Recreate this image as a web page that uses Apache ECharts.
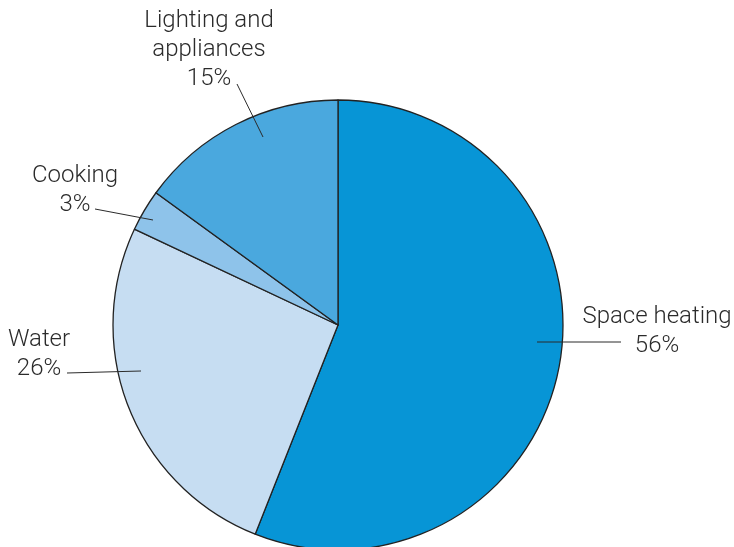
<!DOCTYPE html>
<html>
<head>
<meta charset="utf-8">
<script src="https://cdn.jsdelivr.net/npm/echarts@6/dist/echarts.min.js"></script>
<style>
  html, body { margin: 0; padding: 0; background: #ffffff; }
  #chart { width: 734px; height: 547px; }
</style>
</head>
<body>
<div id="chart"></div>
<script>
// ---- data ----
const categories = ['Space heating', 'Water', 'Cooking', 'Lighting and\nappliances'];
const shares = [56, 26, 3, 15];
const sliceColors = ['#0795d6', '#c6ddf2', '#8ec3ea', '#4aa8de'];

// ---- label layout (annotation placement, not data) ----
// text centre, leader-line start (inside slice), leader-line end
const labelPlacement = [
  { x: 657, y: 331, from: [537, 342], to: [621, 342] },
  { x: 39,  y: 354, from: [141, 371], to: [67, 373] },
  { x: 75,  y: 190, from: [153, 220], to: [95, 209] },
  { x: 209, y: 50,  from: [263, 137], to: [237, 84] }
];

const chart = echarts.init(document.getElementById('chart'), null, { renderer: 'canvas' });

const pieData = categories.map((name, i) => ({
  name: name,
  value: shares[i],
  itemStyle: { color: sliceColors[i] }
}));

const option = {
  animation: false,
  backgroundColor: '#ffffff',
  series: [{
    type: 'pie',
    z: 2,
    center: [338, 325],
    radius: 225,
    startAngle: 90,
    clockwise: true,
    avoidLabelOverlap: false,
    data: pieData,
    itemStyle: { borderColor: '#222222', borderWidth: 1.3 },
    emphasis: { disabled: true },
    label: { show: false },
    labelLine: { show: false }
  }, {
    // transparent overlay carrying the labels so leader lines draw above slices
    type: 'pie',
    z: 5,
    silent: true,
    center: [338, 325],
    radius: 225,
    startAngle: 90,
    clockwise: true,
    avoidLabelOverlap: false,
    data: categories.map((name, i) => ({ name: name, value: shares[i] })),
    itemStyle: { color: 'rgba(0,0,0,0)', borderWidth: 0 },
    emphasis: { disabled: true },
    label: {
      show: true,
      position: 'outside',
      formatter: p => p.name + '\n' + p.value + '%',
      fontFamily: 'Roboto, "Liberation Sans", sans-serif',
      fontWeight: 300,
      fontSize: 24,
      lineHeight: 29,
      color: '#2b2b2b',
      align: 'center'
    },
    labelLine: {
      show: true,
      length: 10,
      length2: 10,
      lineStyle: { color: '#2b2b2b', width: 1 }
    },
    labelLayout: function (params) {
      const c = labelPlacement[params.dataIndex];
      return {
        x: c.x,
        y: c.y,
        align: 'center',
        verticalAlign: 'middle',
        labelLinePoints: [c.from, c.from, c.to]
      };
    }
  }]
};

chart.setOption(option);
</script>
</body>
</html>
